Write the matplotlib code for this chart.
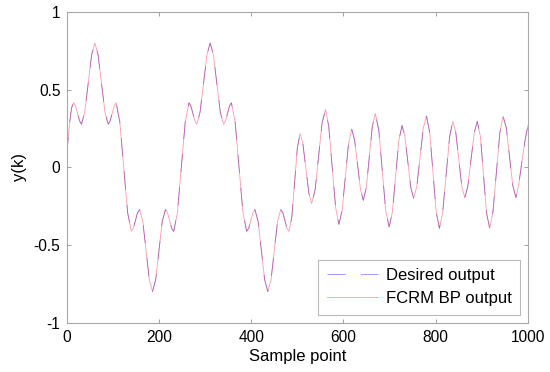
import matplotlib
matplotlib.use("Agg")
import matplotlib.pyplot as plt

plt.rcParams['font.family'] = ['Liberation Sans', 'DejaVu Sans']

# sample index and output values
k_first = [0, 4, 8, 11, 15, 19, 23.5, 28, 32, 39, 46.5, 54, 61, 68, 75.5, 83, 90,
           94, 98.5, 103, 107, 115, 123.5, 132, 140, 144.5, 149, 153.5, 158,
           165, 172, 179, 186, 193, 200, 207, 214, 218.5, 223, 227.5, 232,
           240, 248.5, 257, 265, 269, 273.5, 278, 282, 289, 296.5, 304, 311,
           318, 325.5, 333, 340, 344, 348.5, 353, 357, 365, 373.5, 382, 390,
           394.5, 399, 403.5, 408, 415, 422, 429, 436, 443, 450, 457, 464,
           468.5, 473, 477.5, 482, 488, 494, 500]
y_first = [0.077, 0.216, 0.329, 0.386, 0.415, 0.395, 0.346, 0.297, 0.277, 0.353, 0.539, 0.724, 0.80,
           0.724, 0.539, 0.353, 0.277, 0.297, 0.346, 0.395, 0.415, 0.294, 0.001, -0.292, -0.413,
           -0.393, -0.343, -0.293, -0.273, -0.350, -0.537, -0.723, -0.80, -0.723, -0.537, -0.350,
           -0.273, -0.293, -0.343, -0.393, -0.413, -0.292, 0.001, 0.294, 0.415, 0.395, 0.346,
           0.297, 0.277, 0.353, 0.539, 0.724, 0.80, 0.724, 0.539, 0.353, 0.277, 0.297, 0.346,
           0.395, 0.415, 0.294, 0.001, -0.292, -0.413, -0.393, -0.343, -0.293, -0.273, -0.350,
           -0.537, -0.723, -0.80, -0.723, -0.537, -0.350, -0.273, -0.293, -0.343, -0.393,
           -0.413, -0.321, -0.098, 0.125]

k_second = [506, 512, 518.5, 525, 531, 538.5, 546, 553.5, 561, 568, 575.5, 583, 590,
            597, 604, 611, 618, 624, 630.5, 637, 643, 649.5, 656, 662.5, 669, 676.5,
            684, 691.5, 699, 706, 713, 720, 727, 733, 739.5, 746, 752, 759, 766, 773,
            780, 787, 794, 801, 808, 815, 822.5, 830, 837, 843.5, 850, 856.5, 863,
            869.5, 876.5, 883.5, 890, 897, 903.5, 910, 917, 924, 931.5, 939, 946, 953,
            960, 967, 974, 980, 987, 994, 1000]
y_second = [0.217, 0.151, -0.009, -0.168, -0.234, -0.146, 0.069, 0.284, 0.372, 0.264, 0.002,
            -0.260, -0.368, -0.279, -0.063, 0.154, 0.243, 0.176, 0.015, -0.146, -0.213, -0.131,
            0.067, 0.264, 0.346, 0.239, -0.020, -0.278, -0.385, -0.290, -0.058, 0.174, 0.269,
            0.201, 0.035, -0.132, -0.200, -0.123, 0.065, 0.252, 0.329, 0.223, -0.033, -0.288,
            -0.394, -0.293, -0.050, 0.194, 0.295, 0.223, 0.050, -0.124, -0.196, -0.124, 0.050,
            0.223, 0.295, 0.194, -0.050, -0.293, -0.394, -0.288, -0.033, 0.223, 0.329, 0.252,
            0.067, -0.119, -0.196, -0.110, 0.040, 0.180, 0.270]

k_all = k_first + k_second
y_desired = y_first + y_second
y_model = y_first + y_second

x_ticks = [0, 200, 400, 600, 800, 1000]
y_ticks = [-1, -0.5, 0, 0.5, 1]
y_tick_labels = ['-1', '-0.5', '0', '0.5', '1']

fig = plt.figure(figsize=(5.5, 3.72), dpi=100)
ax = fig.add_axes([0.1213, 0.133, 0.8387, 0.835])

ax.plot(k_all, y_desired, color='#3030ff', linestyle=(0, (22, 18)), linewidth=0.6,
        alpha=0.55, label='Desired output')
ax.plot(k_all, y_model, color='#ff2040', linestyle='-', linewidth=0.6, alpha=0.45,
        label='FCRM BP output')

ax.set_xlim(0, 1000)
ax.set_ylim(-1, 1)
ax.set_xticks(x_ticks)
ax.set_xticklabels([str(t) for t in x_ticks])
ax.set_yticks(y_ticks)
ax.set_yticklabels(y_tick_labels)
ax.tick_params(direction='in', top=True, right=True, labelsize=11.2, length=3,
               color='#909090', width=0.6)
ax.tick_params(axis='x', pad=5.5)
ax.tick_params(axis='y', pad=4.5)
for s in ax.spines.values():
    s.set_color('#a8a8a8')
    s.set_linewidth(0.8)

ax.set_xlabel('Sample point', fontsize=12, labelpad=3)
ax.set_ylabel('y(k)', fontsize=12, labelpad=5)

leg = ax.legend(loc='lower right', fontsize=12, handlelength=3.1, frameon=True,
                fancybox=False, edgecolor='#a8a8a8', borderpad=0.5,
                labelspacing=0.5, borderaxespad=0.48, handletextpad=0.45)
leg.get_frame().set_linewidth(0.8)

fig.savefig('out.png', dpi=100)
